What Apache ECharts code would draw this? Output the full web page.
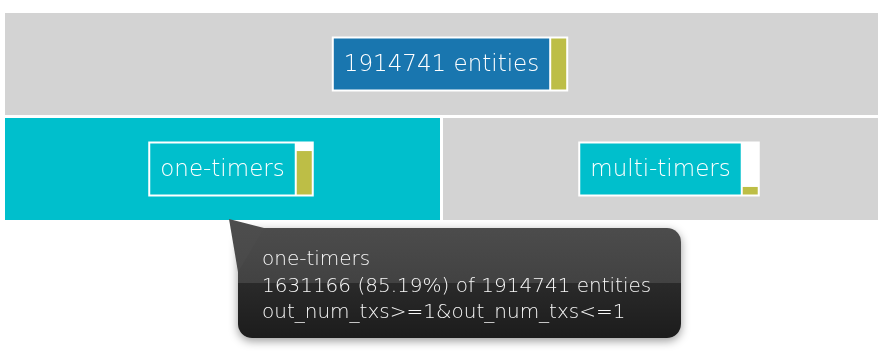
<!DOCTYPE html>
<html><head><meta charset="utf-8">
<script src="https://cdn.jsdelivr.net/npm/echarts@6/dist/echarts.min.js"></script>
<style>html,body{margin:0;padding:0;background:#fff}#c{width:887px;height:353px}</style>
</head><body><div id="c"></div>
<script>
// ---- data ----
const nodeNames   = ['1914741 entities', 'one-timers', 'multi-timers'];
const nodeCounts  = [1914741, 1631166, 283575];
const nodeParents = [-1, 0, 0];
const nodeLevels  = [0, 1, 1];
const nodeRules   = ['', 'out_num_txs>=1&out_num_txs<=1', ''];
const hoveredNode = 'one-timers';

// ---- styles ----
const GRAY = '#d3d3d3', CYAN = '#00bfcc', BLUE = '#1976af', OLIVE = '#bdbe46';
const FONT_FAMILY = '"DejaVu Sans"';
const FONT_W = 200, FONT_S = 23;

// layout: each parent's span split equally among its children
const x0s = [], x1s = [];
nodeNames.forEach((n, i) => {
  if (nodeParents[i] < 0) { x0s[i] = 0; x1s[i] = 1; }
});
nodeNames.forEach((n, i) => {
  const p = nodeParents[i];
  if (p < 0) return;
  const sibs = nodeNames.map((_, j) => j).filter(j => nodeParents[j] === p);
  const k = sibs.indexOf(i), w = (x1s[p] - x0s[p]) / sibs.length;
  x0s[i] = x0s[p] + k * w; x1s[i] = x0s[i] + w;
});
const hoveredIndex = nodeNames.indexOf(hoveredNode);

const cv = document.createElement('canvas').getContext('2d');
cv.font = FONT_W + ' ' + FONT_S + 'px ' + FONT_FAMILY;
function textW(s) { return cv.measureText(s).width; }

const seriesData = nodeNames.map((n, i) => [x0s[i], x1s[i], nodeLevels[i], nodeLevels[i] + 1, i]);

function renderItem(params, api) {
  const i = api.value(4);
  const p0 = api.coord([api.value(0), api.value(2)]);
  const p1 = api.coord([api.value(1), api.value(3)]);
  const cx = (p0[0] + p1[0]) / 2, cy = (p0[1] + p1[1]) / 2;
  const W = textW(nodeNames[i]);
  const areaW = W + 20, areaH = 51;
  const ax = cx - areaW / 2, ay = cy - areaH / 2;
  const par = nodeParents[i];
  const frac = par < 0 ? 1 : nodeCounts[i] / nodeCounts[par];
  const barH = areaH * frac;
  return {
    type: 'group',
    children: [
      { type: 'rect', shape: { x: p0[0] + 1.5, y: p0[1] + 1.5, width: p1[0] - p0[0] - 3, height: p1[1] - p0[1] - 3 },
        style: { fill: i === hoveredIndex ? CYAN : GRAY } },
      { type: 'rect', shape: { x: ax - 2, y: ay - 2, width: areaW + 2 + 15 + 2 + 2, height: areaH + 4 },
        style: { fill: '#fff' } },
      { type: 'rect', shape: { x: ax, y: ay, width: areaW, height: areaH },
        style: { fill: nodeLevels[i] === 0 ? BLUE : CYAN } },
      { type: 'rect', shape: { x: ax + areaW + 2, y: ay + areaH - barH, width: 15, height: barH },
        style: { fill: OLIVE } },
      { type: 'text', x: cx, y: cy + 1.5,
        style: { text: nodeNames[i], fill: '#fff', font: FONT_W + ' ' + FONT_S + 'px ' + FONT_FAMILY,
                 align: 'center', verticalAlign: 'middle' } }
    ]
  };
}

function esc(s) { return s.replace(/&/g, '&amp;').replace(/</g, '&lt;').replace(/>/g, '&gt;'); }

const chart = echarts.init(document.getElementById('c'), null, { renderer: 'canvas' });
chart.setOption({
  animation: false,
  backgroundColor: '#fff',
  grid: { left: 3.5, right: 7.5, top: 11.5, bottom: 131.5 },
  xAxis: { type: 'value', min: 0, max: 1, show: false },
  yAxis: { type: 'value', min: 0, max: 2, inverse: true, show: false },
  tooltip: {
    trigger: 'item', triggerOn: 'none', alwaysShowContent: true, showDelay: 0, transitionDuration: 0,
    position: [238, 228], padding: 0, borderWidth: 0, backgroundColor: '#3a3a3a',
    textStyle: { color: '#f8f8f8', fontSize: 20, fontFamily: 'DejaVu Sans', fontWeight: 200 },
    extraCssText: 'border-radius:14px;box-shadow:0 3px 10px rgba(0,0,0,0.4);' +
      'background:linear-gradient(to bottom,#4c4c4c 0%,#424242 50%,#2a2a2a 50%,#1c1c1c 100%);' +
      'width:443px;height:110px;box-sizing:border-box;padding:17px 24px 13px 24px;',
    formatter: function (p) {
      const i = p.value[4], par = nodeParents[i];
      const pct = (nodeCounts[i] / nodeCounts[par] * 100).toFixed(2);
      return '<div style="position:absolute;left:-10px;top:-10px;width:44px;height:56px;' +
        'background:linear-gradient(to bottom,#4e4e4e,#484848);' +
        'clip-path:polygon(1px 1px,36px 10px,10px 54px)"></div>' +
        '<div style="position:relative;line-height:26.5px;white-space:nowrap">' +
        esc(nodeNames[i]) + '<br>' +
        nodeCounts[i] + ' (' + pct + '%) of ' + esc(nodeNames[par]) + '<br>' +
        esc(nodeRules[i]) + '</div>';
    }
  },
  series: [{
    type: 'custom', renderItem: renderItem, data: seriesData,
    encode: { x: [0, 1], y: [2, 3] }, clip: false
  }]
});
chart.dispatchAction({ type: 'showTip', seriesIndex: 0, dataIndex: hoveredIndex });
</script>
</body></html>
